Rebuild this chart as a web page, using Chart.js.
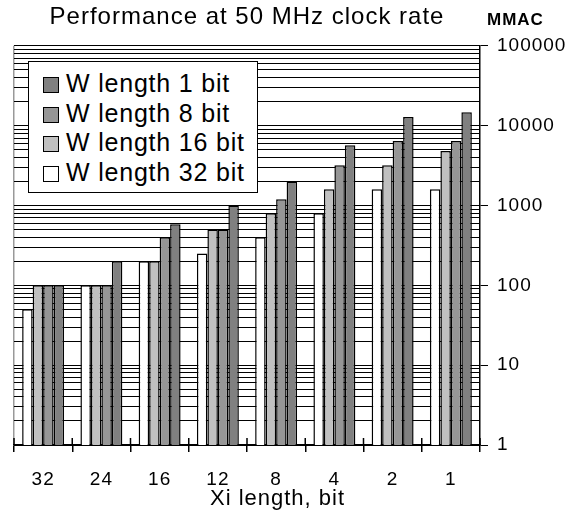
<!DOCTYPE html>
<html>
<head>
<meta charset="utf-8">
<script src="https://cdn.jsdelivr.net/npm/chart.js@4.4.1/dist/chart.umd.min.js"></script>
<style>
  body { margin: 0; background: #fff; }
  #wrap { position: relative; width: 577px; height: 516px; }
  #legend {
    position: absolute; left: 28px; top: 61px; width: 228px; height: 130px;
    background: #fff; border: 1.5px solid #000;
    font-family: "Liberation Sans", Arial, sans-serif; font-size: 25px; color: #000;
    letter-spacing: 0.8px;
  }
  #legend .item { position: absolute; left: 14px; height: 30px; line-height: 30px; white-space: nowrap; }
  #legend .box { display: inline-block; width: 14px; height: 14px; border: 1.5px solid #000; margin-right: 7px; vertical-align: -1px; }
</style>
</head>
<body>
<div id="wrap">
  <canvas id="chart" width="577" height="516"></canvas>
  <div id="legend"></div>
</div>
<script>
const categories = ['32', '24', '16', '12', '8', '4', '2', '1']
const w32 = [50, 100, 200, 250, 400, 800, 1600, 1600]
const w16 = [100, 100, 200, 500, 800, 1600, 3200, 4800]
const w8 = [100, 100, 400, 500, 1200, 3200, 6400, 6400]
const w1 = [100, 200, 580, 1000, 2000, 5700, 12800, 14700]

// gridlines at 1..9 x each decade
const decades = [1, 10, 100, 1000, 10000]
const mantissas = [1, 2, 3, 4, 5, 6, 7, 8, 9]
const yMax = 100000

const font = '"Liberation Sans", Arial, sans-serif'

function isPow10(v) {
  return Math.abs(Math.log10(v) - Math.round(Math.log10(v))) < 1e-9
}

// the original text is a little wider than Arial, so space the letters out
const spacingPlugin = {
  id: 'spacing',
  beforeLayout(chart) { chart.ctx.letterSpacing = '1px' },
  beforeDraw(chart) { chart.ctx.letterSpacing = '1px' }
}

const labelsPlugin = {
  id: 'extraLabels',
  afterDatasetsDraw(chart) {
    // category ticks cross the x axis
    const ctx = chart.ctx
    const x = chart.scales.x
    const half = (x.getPixelForValue(1) - x.getPixelForValue(0)) / 2
    ctx.save()
    ctx.strokeStyle = '#000'
    ctx.lineWidth = 1.5
    ctx.beginPath()
    for (let i = 0; i <= categories.length; i++) {
      const px = x.getPixelForValue(i) - half
      ctx.moveTo(px, x.top - 7)
      ctx.lineTo(px, x.top)
    }
    ctx.stroke()
    ctx.restore()
  },
  afterDraw(chart) {
    const ctx = chart.ctx
    const y = chart.scales.y
    ctx.save()
    ctx.fillStyle = '#000'
    ctx.textBaseline = 'middle'
    ctx.font = 'bold 17px ' + font
    ctx.textAlign = 'left'
    ctx.fillText('MMAC', y.left + 7, 20)
    ctx.font = '22px ' + font
    ctx.textAlign = 'center'
    ctx.fillText('Xi length, bit', chart.width / 2 - 11, 499)
    ctx.restore()
  }
}

const ctx = document.getElementById('chart').getContext('2d')
const chart = new Chart(ctx, {
  type: 'bar',
  data: {
    labels: categories,
    datasets: [
      { label: 'W length 32 bit', data: w32, backgroundColor: '#ffffff' },
      { label: 'W length 16 bit', data: w16, backgroundColor: '#c0c0c0' },
      { label: 'W length 8 bit', data: w8, backgroundColor: '#969696' },
      { label: 'W length 1 bit', data: w1, backgroundColor: '#808080' }
    ]
  },
  options: {
    responsive: false,
    animation: false,
    devicePixelRatio: 1,
    layout: { padding: { left: 14, right: 0, top: 0, bottom: 0 } },
    datasets: {
      bar: {
        borderColor: '#000',
        borderWidth: 1.5,
        categoryPercentage: 0.72,
        barPercentage: 1
      }
    },
    plugins: {
      legend: { display: false },
      tooltip: { enabled: false },
      title: {
        display: true,
        text: 'Performance at 50 MHz clock rate',
        fullSize: false,
        color: '#000',
        font: { family: font, size: 24, weight: 'normal' },
        padding: { top: 3, bottom: 14 }
      }
    },
    scales: {
      x: {
        grid: {
          offset: true,
          drawOnChartArea: true,
          color: function(c) { return c.index === 0 ? '#999' : 'rgba(0,0,0,0)' },
          tickColor: '#000',
          tickLength: 7,
          lineWidth: 1.5
        },
        border: { display: true, color: '#000', width: 1.5 },
        ticks: { color: '#000', font: { family: font, size: 19 }, padding: 16, maxRotation: 0 },
        afterFit: function(scale) { scale.height = 71 }
      },
      y: {
        type: 'logarithmic',
        position: 'right',
        min: 1,
        max: yMax,
        afterBuildTicks: function(scale) {
          const ticks = []
          decades.forEach(function(d) {
            mantissas.forEach(function(m) { ticks.push({ value: d * m }) })
          })
          ticks.push({ value: yMax })
          scale.ticks = ticks
        },
        grid: {
          color: '#000',
          lineWidth: 1,
          tickLength: 8,
          tickColor: function(c) { return c.tick && isPow10(c.tick.value) ? '#000' : 'rgba(0,0,0,0)' }
        },
        border: { display: true, color: '#000', width: 1.5 },
        ticks: {
          color: '#000',
          font: { family: font, size: 19 },
          padding: 9,
          crossAlign: 'near',
          autoSkip: false,
          callback: function(v) { return isPow10(v) ? String(v) : '' }
        },
        afterFit: function(scale) { scale.width = 97 }
      }
    }
  },
  plugins: [spacingPlugin, labelsPlugin]
})

// legend in the plot area, same order as the reference (1 bit first)
const legendEl = document.getElementById('legend')
chart.data.datasets.slice().reverse().forEach(function(ds, i) {
  const item = document.createElement('div')
  item.className = 'item'
  item.style.top = (6 + i * 29.7) + 'px'
  const box = document.createElement('span')
  box.className = 'box'
  box.style.background = ds.backgroundColor
  item.appendChild(box)
  item.appendChild(document.createTextNode(ds.label))
  legendEl.appendChild(item)
})
</script>
</body>
</html>
